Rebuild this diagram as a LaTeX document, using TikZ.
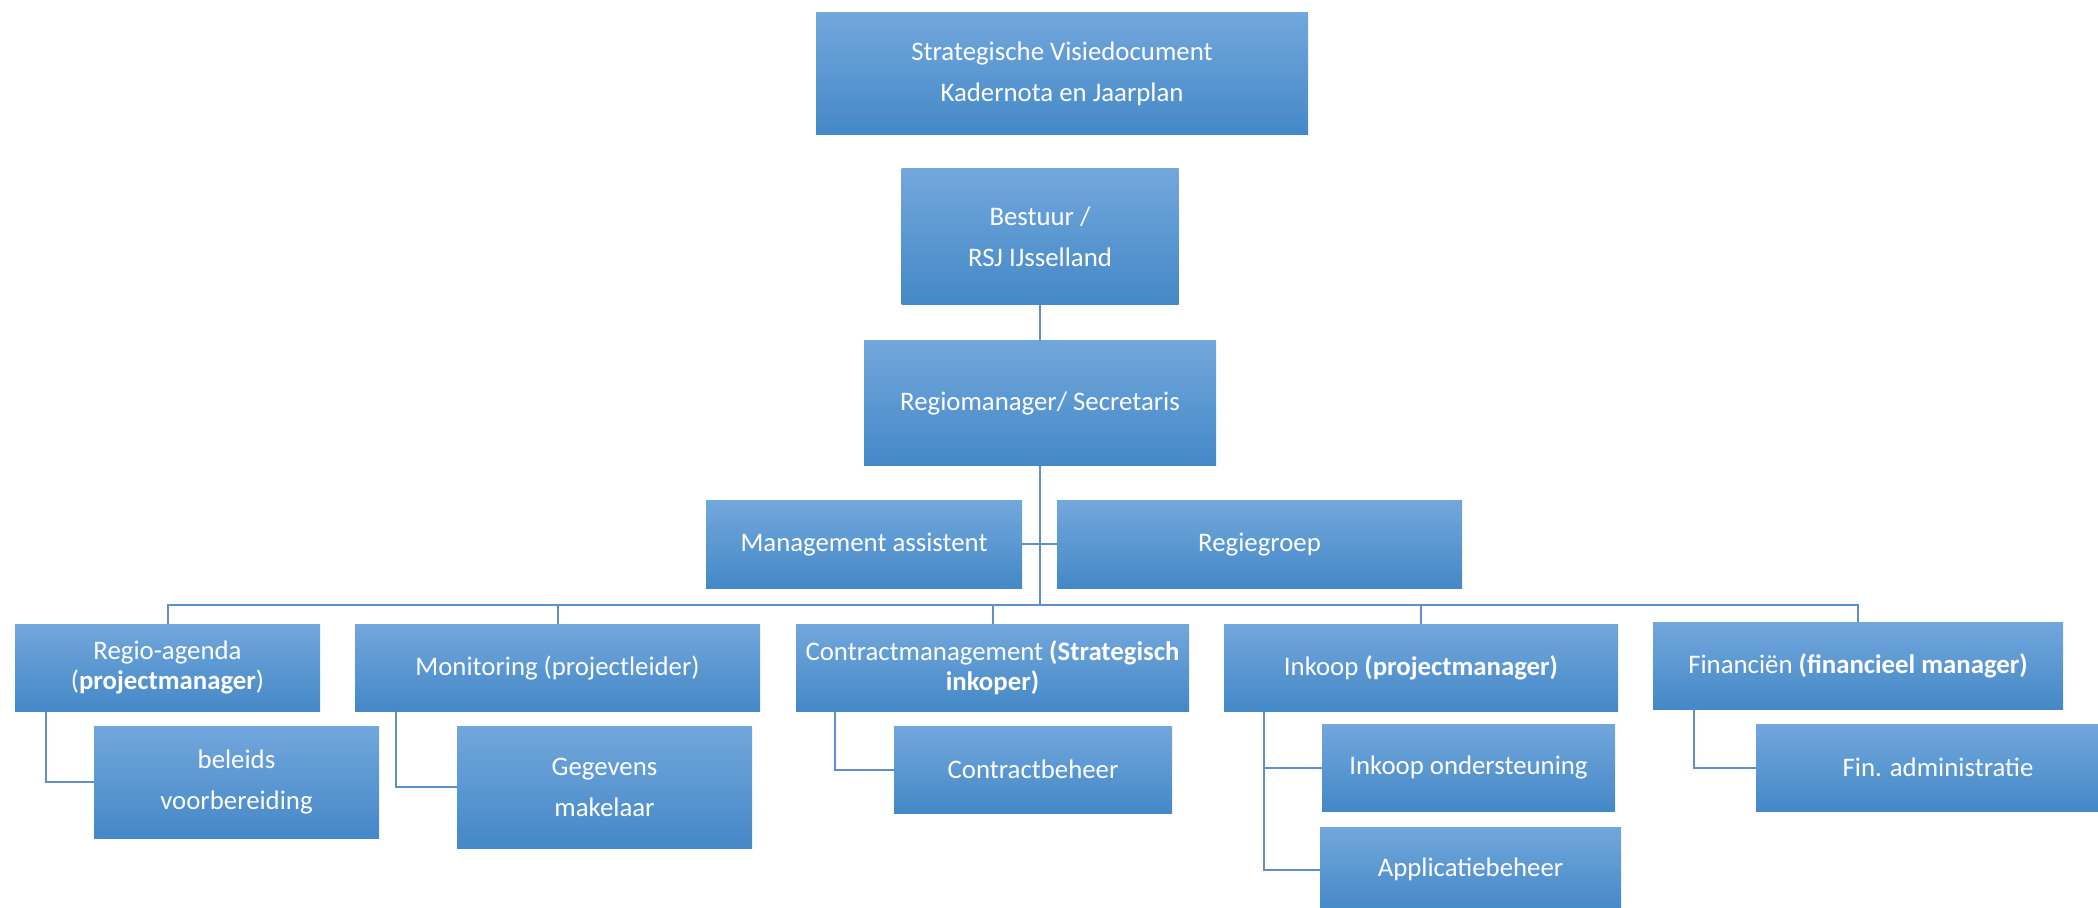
\documentclass[tikz,border=0pt]{standalone}
\usepackage{fontspec}
\setmainfont{Carlito}
\definecolor{gtop}{RGB}{114,167,220}
\definecolor{gmid}{RGB}{86,156,222}
\definecolor{gbot}{RGB}{68,136,199}
\definecolor{lineblue}{RGB}{95,144,200}
\tikzset{
  orgbox/.style={rectangle, inner sep=0pt, top color=gtop, middle color=gmid, bottom color=gbot,
    draw=none, text=white, align=center, font=\fontsize{13.4}{15.2}\selectfont},
  loose/.style={font=\fontsize{13.4}{20.5}\selectfont},
  conn/.style={draw=lineblue, line width=1pt}
}
\begin{document}
\begin{tikzpicture}[x=0.5pt,y=-0.5pt]
\useasboundingbox (0,0) rectangle (2098,908);
\node[orgbox,loose,minimum width=246pt,minimum height=61pt] (top) at (1062,74) {Strategische Visiedocument\\Kadernota en Jaarplan};
\node[orgbox,loose,minimum width=138.5pt,minimum height=68pt] (best) at (1040,237) {Bestuur /\\RSJ IJsselland};
\node[orgbox,minimum width=176pt,minimum height=62.5pt] (regio) at (1040,403.5) {Regiomanager/ Secretaris};
\node[orgbox,minimum width=158pt,minimum height=43.5pt] (ma) at (864,544.5) {Management assistent};
\node[orgbox,minimum width=202.5pt,minimum height=43.5pt] (rg) at (1259.5,544.5) {Regiegroep};
\node[orgbox,minimum width=152.5pt,minimum height=43.5pt] (ra) at (167.5,667.5) {Regio-agenda\\(\textbf{projectmanager})};
\node[orgbox,minimum width=202.5pt,minimum height=43.5pt] (mon) at (557.5,667.5) {Monitoring (projectleider)};
\node[orgbox,minimum width=196.5pt,minimum height=43.5pt] (con) at (992.5,667.5) {Contractmanagement \textbf{(Strategisch}\\\textbf{inkoper)}};
\node[orgbox,minimum width=197pt,minimum height=43.5pt] (ink) at (1421,667.5) {Inkoop \textbf{(projectmanager)}};
\node[orgbox,minimum width=205pt,minimum height=43.5pt] (fin) at (1858,665.5) {Financiën \textbf{(financieel manager)}};
\node[orgbox,loose,minimum width=142.5pt,minimum height=56pt] (bel) at (236.5,782) {beleids\\voorbereiding};
\node[orgbox,loose,minimum width=147.5pt,minimum height=61pt] (geg) at (604.5,787) {Gegevens\\makelaar};
\node[orgbox,minimum width=139pt,minimum height=43.5pt] (cb) at (1033,769.5) {Contractbeheer};
\node[orgbox,minimum width=146.5pt,minimum height=43.5pt] (io) at (1468.5,767.5) {Inkoop ondersteuning};
\node[orgbox,minimum width=150.5pt,minimum height=42.5pt] (ab) at (1470.5,869.5) {Applicatiebeheer};
\node[orgbox,minimum width=182pt,minimum height=43.5pt] (fa) at (1938,767.5) {Fin. administratie};
\coordinate (bus) at (1040,605);
\draw[conn] (best.south) -- (regio.north);
\draw[conn] (regio.south) -- (bus);
\draw[conn] (ma.east) -- (rg.west);
\draw[conn] (ra.north) |- (bus) -| (fin.north);
\draw[conn] (mon.north) -- (mon.north |- bus);
\draw[conn] (con.north) -- (con.north |- bus);
\draw[conn] (ink.north) -- (ink.north |- bus);
\draw[conn] (ra.south west) ++(31,0) |- (bel.west);
\draw[conn] (mon.south west) ++(41,0) |- (geg.west);
\draw[conn] (con.south west) ++(39,0) |- (cb.west);
\draw[conn] (ink.south west) ++(40,0) |- (io.west);
\draw[conn] (ink.south west) ++(40,0) |- (ab.west);
\draw[conn] (fin.south west) ++(41,0) |- (fa.west);
\end{tikzpicture}
\end{document}
